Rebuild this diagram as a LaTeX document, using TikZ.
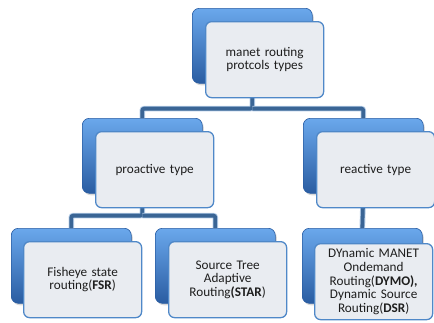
\documentclass[tikz,border=0pt]{standalone}
\usepackage{fontspec}
\setmainfont{Carlito}
\usetikzlibrary{shadows}
\definecolor{linkdark}{HTML}{3A6595}
\definecolor{linklight}{HTML}{B5CDE8}
\definecolor{backtop}{HTML}{6AA8EC}
\definecolor{backmid}{HTML}{3A80D4}
\definecolor{backbot}{HTML}{2A5DA2}
\definecolor{frontfill}{HTML}{E9ECF1}
\definecolor{frontline}{HTML}{4F88C8}
\definecolor{textgray}{HTML}{1E1E1E}
\begin{document}
\begin{tikzpicture}[x=1pt,y=-1pt,
  backbox/.style={anchor=north west,rounded corners=7pt,draw=backbot,line width=0.6pt,
    top color=backtop,middle color=backmid,bottom color=backbot,minimum width=120pt,minimum height=75pt,
    inner sep=0pt,drop shadow={opacity=0.3,shadow xshift=1.5pt,shadow yshift=-2pt}},
  frontbox/.style={anchor=north west,rounded corners=6pt,draw=frontline,line width=1.3pt,
    fill=frontfill,minimum width=118pt,minimum height=76pt,text=textgray,
    inner sep=1pt,align=center,text width=116pt,font=\fontsize{13.2}{13.6}\selectfont},
  link/.style={draw=linklight,line width=5.6pt,rounded corners=2pt,
    postaction={draw=linkdark,line width=3.8pt,rounded corners=2pt}}
]
\useasboundingbox (0,0) rectangle (434,322);

% back (blue) boxes
\node[backbox] (topB) at (192,8) {};
\node[backbox] (proB) at (82,118) {};
\node[backbox] (reaB) at (303,118) {};
\node[backbox] (fsrB) at (11,228) {};
\node[backbox] (starB) at (155,228) {};
\node[backbox] (dsrB) at (302,228) {};

% connectors
\draw[link] (topB.south) -- ++(0,25) coordinate (bar1) -| (proB.north);
\draw[link] (bar1) -| (reaB.north);
\draw[link] (proB.south) -- ++(0,22) coordinate (bar2) -| (fsrB.north);
\draw[link] (bar2) -| (starB.north);
\draw[link] (reaB.south) -- (dsrB.north);

% front (text) boxes
\node[frontbox] (topF) at (205,21) {manet routing\\protcols types};
\node[frontbox] (proF) at (95,131) {proactive type};
\node[frontbox] (reaF) at (316,131) {reactive type};
\node[frontbox] (fsrF) at (23,241) {Fisheye state\\routing(\textbf{FSR})};
\node[frontbox] (starF) at (168,241) {Source Tree\\Adaptive\\Routing\textbf{(STAR}{)}};
\node[frontbox] (dsrF) at (314,243) {DYnamic MANET\\Ondemand\\Routing(\textbf{DYMO),}\\Dynamic Source\\Routing(\textbf{DSR})};
\end{tikzpicture}
\end{document}
